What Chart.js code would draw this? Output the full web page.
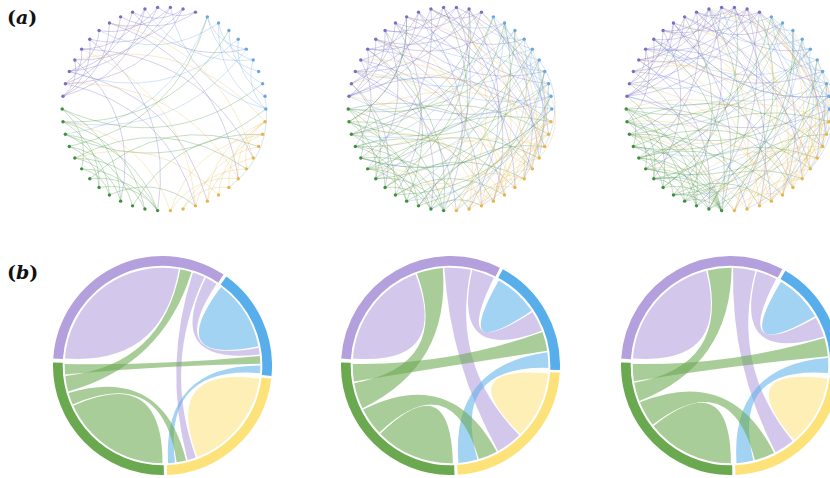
<!DOCTYPE html>
<html>
<head>
<meta charset="utf-8">
<script src="https://cdn.jsdelivr.net/npm/chart.js@4.4.1/dist/chart.umd.min.js"></script>
<style>
  html, body { margin: 0; padding: 0; background: #fff; }
  body { width: 830px; height: 478px; position: relative; overflow: hidden; }
  canvas { position: absolute; }
  .tag { position: absolute; font: bold 19px "DejaVu Serif", serif; line-height: 19px; color: #111; }
</style>
</head>
<body>
<div class="tag" style="left:7px;top:8px">(<i>a</i>)</div>
<div class="tag" style="left:7px;top:263px">(<i>b</i>)</div>

<canvas id="netA1" width="232" height="232"></canvas>
<canvas id="netA2" width="232" height="232"></canvas>
<canvas id="netA3" width="232" height="232"></canvas>
<canvas id="chordB1" width="219" height="219"></canvas>
<canvas id="chordB2" width="219" height="219"></canvas>
<canvas id="chordB3" width="219" height="219"></canvas>

<script>
// ---- network row (a): 50 nodes around the ring, counted ccw from 3 o'clock ----
const nodeGroupSizes = [10, 15, 13, 12];            // blue, purple, green, yellow
const nodeColors = ['#6aa7df', '#7c6dc2', '#3f8f41', '#e8b54a'];
const edgeColors = ['rgba(112,165,222,0.38)', 'rgba(124,110,196,0.4)', 'rgba(78,152,72,0.4)', 'rgba(232,185,85,0.36)'];

const edgesA1 = [
  [10,13],[10,16],[11,15],[11,19],[12,17],[12,21],[13,18],[14,20],[14,24],[15,22],[16,23],[17,24],[18,22],[19,24],[20,23],[21,24],[13,22],[11,23],
  [22,41],[21,34],[20,46],[19,37],[17,44],[15,5],[23,40],
  [0,4],[1,6],[2,7],[3,9],[5,9],[0,8],[4,8],
  [9,27],[8,18],[6,22],[5,26],[4,14],[1,43],[0,12],
  [25,30],[25,34],[26,32],[26,36],[27,33],[27,37],[28,35],[29,34],[30,36],[31,37],[28,32],[29,37],[30,33],[32,37],
  [25,2],[26,7],[27,0],[28,9],[29,45],[31,47],[33,40],[35,48],
  [38,44],[38,48],[39,45],[40,47],[41,49],[42,48],[43,49],[44,49],[39,43],[41,46],[45,49],
  [38,26],[40,20],[42,29],[44,23],[46,17],[49,21]
];

const edgesA2 = [
  [10,14],[10,19],[11,17],[12,20],[13,24],[14,22],[15,24],[16,21],[17,23],[18,24],[19,23],[20,24],[11,22],[12,16],[13,18],[15,20],
  [10,27],[10,44],[11,31],[11,39],[12,48],[12,35],[13,2],[13,41],[14,29],[14,46],[15,6],[15,37],[16,43],[16,26],
  [17,33],[17,3],[18,47],[18,30],[19,40],[19,8],[20,36],[20,45],[21,28],[21,42],[22,1],[22,38],[23,32],[24,49],
  [0,5],[1,7],[2,8],[3,9],[0,3],[4,9],[5,8],[1,4],
  [0,15],[0,29],[1,19],[1,34],[2,24],[2,40],[3,12],[3,36],[4,21],[4,27],[5,30],[5,17],[6,11],[6,44],[7,25],[7,22],
  [8,33],[8,14],[9,28],[9,46],[6,38],[4,47],
  [25,29],[25,33],[26,31],[26,35],[27,32],[27,36],[28,34],[28,37],[29,35],[30,36],[31,37],[25,37],[30,34],[32,36],
  [25,6],[25,45],[26,2],[26,41],[27,9],[27,48],[28,5],[28,43],[29,0],[29,39],[30,8],[30,46],[31,4],[31,49],
  [32,11],[32,44],[33,1],[33,42],[34,7],[34,18],[35,3],[35,47],[36,13],[36,40],[37,20],[37,8],[26,16],[31,23],
  [38,43],[38,47],[39,44],[39,48],[40,45],[41,46],[42,49],[43,48],[44,49],[40,49],[41,47],[45,48],
  [38,12],[38,30],[39,17],[39,2],[40,24],[40,7],[41,11],[41,33],[42,19],[42,27],[43,22],[43,5],[44,14],[44,35],
  [45,10],[45,29],[46,21],[46,1],[47,16],[47,32],[48,23],[49,26]
];

const edgesA3 = [
  [10,13],[10,17],[10,21],[11,15],[11,20],[11,24],[12,18],[12,23],[13,19],[13,22],[14,18],[14,24],[15,21],[16,20],
  [16,24],[17,22],[18,23],[19,24],[20,23],[12,15],[14,21],[17,24],
  [10,30],[10,46],[11,35],[11,42],[12,2],[12,38],[13,27],[13,48],[14,33],[14,5],[15,40],[15,29],[16,8],[16,44],
  [17,37],[17,1],[18,45],[18,31],[19,3],[19,41],[20,26],[20,47],[21,36],[22,43],[23,0],[24,39],
  [0,4],[0,7],[1,5],[2,6],[3,8],[4,9],[1,9],[5,9],
  [0,13],[0,33],[1,17],[1,28],[2,21],[2,39],[3,11],[3,31],[4,19],[4,44],[5,24],[5,26],[6,15],[6,41],[7,10],[7,36],
  [8,20],[8,29],[9,14],[9,47],[6,34],[3,48],[7,23],[2,45],
  [25,28],[25,31],[25,35],[26,30],[26,34],[26,37],[27,31],[27,35],[28,33],[28,37],[29,32],[29,36],[30,35],[31,34],
  [31,37],[32,37],[33,36],[25,37],[27,37],[29,37],[30,37],[34,37],
  [25,5],[25,43],[26,1],[26,47],[27,8],[27,40],[28,3],[28,45],[29,9],[29,42],[30,0],[30,49],[31,6],[31,38],
  [32,12],[32,46],[33,2],[33,41],[34,16],[34,44],[35,7],[35,22],[36,4],[36,48],[37,19],[37,10],[32,24],[36,14],
  [38,42],[38,46],[39,44],[39,49],[40,45],[40,48],[41,47],[42,49],[43,47],[44,48],[45,49],[38,49],[41,44],
  [38,15],[38,27],[39,11],[39,30],[40,20],[40,2],[41,23],[41,34],[42,13],[42,26],[43,18],[43,7],[44,10],[44,29],
  [45,21],[45,4],[46,17],[46,33],[47,12],[47,36],[48,22],[48,1],[49,14],[49,28],[46,25],[42,9]
];

// ---- chord row (b): groups clockwise from 9 o'clock: purple, blue, yellow, green ----
const ringColors = ['#b3a0dd', '#57aeea', '#fde27a', '#6aa94f'];
const ribbonColors = ['rgba(179,160,221,0.58)', 'rgba(87,174,234,0.55)', 'rgba(253,226,122,0.55)', 'rgba(106,169,79,0.58)'];
// colour group of each link id (0 P-P, 1 P-G, 2 P-Y, 3 P-B, 4 B-B, 5 B-G, 6 B-Y, 7 Y-Y, 8 Y-G, 9 G-G)
const linkTint = [0, 3, 0, 0, 1, 3, 1, 2, 3, 3];

// per group: [link id, width] in clockwise order
const slotsB1 = [
  [[0, 95], [1, 7.5], [2, 8], [3, 8]],
  [[4, 43], [3, 5], [5, 5.5], [6, 5.5]],
  [[7, 62], [2, 6], [8, 6.5], [6, 5]],
  [[9, 66], [8, 8], [1, 10], [5, 7]]
];
const slotsB2 = [
  [[0, 64], [1, 16], [2, 16], [3, 14]],
  [[4, 27], [3, 13], [5, 12], [6, 10]],
  [[7, 40], [2, 16], [8, 12], [6, 12]],
  [[9, 47], [8, 17], [1, 16], [5, 11]]
];
const slotsB3 = [
  [[0, 72], [1, 15], [2, 14], [3, 13]],
  [[4, 30], [3, 13], [5, 12], [6, 10]],
  [[7, 43], [2, 13], [8, 13], [6, 11]],
  [[9, 53], [8, 16], [1, 12], [5, 11]]
];

const BEND = 0.3;
const RING_SPACING = 4;
const SLOT_PAD = 0.45 * Math.PI / 180;

function groupOf(i) {
  let acc = 0;
  for (let g = 0; g < nodeGroupSizes.length; g++) {
    acc += nodeGroupSizes[g];
    if (i < acc) return g;
  }
  return nodeGroupSizes.length - 1;
}

const N = nodeGroupSizes.reduce((a, b) => a + b, 0);
const nodes = Array.from({ length: N }, (_, i) => {
  const t = i * 2 * Math.PI / N;
  return { x: Math.cos(t), y: Math.sin(t) };
});

function edgePlugin(edges) {
  return {
    id: 'edges',
    beforeDatasetsDraw(chart) {
      const { ctx, scales: { x, y } } = chart;
      const pts = chart.data.datasets[0].data;
      ctx.save();
      ctx.lineWidth = 0.8;
      edges.forEach(([s, t]) => {
        const p0 = pts[Math.min(s, t)], p1 = pts[Math.max(s, t)];
        const dx = p1.x - p0.x, dy = p1.y - p0.y;
        const cx = (p0.x + p1.x) / 2 - BEND * dy;
        const cy = (p0.y + p1.y) / 2 + BEND * dx;
        ctx.strokeStyle = edgeColors[groupOf(s)];
        ctx.beginPath();
        ctx.moveTo(x.getPixelForValue(p0.x), y.getPixelForValue(p0.y));
        ctx.quadraticCurveTo(x.getPixelForValue(cx), y.getPixelForValue(cy),
                             x.getPixelForValue(p1.x), y.getPixelForValue(p1.y));
        ctx.stroke();
      });
      ctx.restore();
    }
  };
}

function drawNetwork(id, cx, cy, edges) {
  const el = document.getElementById(id);
  el.style.left = (cx - 116) + 'px';
  el.style.top = (cy - 116) + 'px';
  new Chart(el, {
    type: 'scatter',
    data: {
      datasets: [{
        data: nodes,
        pointRadius: 1.7,
        pointBorderWidth: 0,
        pointBackgroundColor: nodes.map((_, i) => nodeColors[groupOf(i)])
      }]
    },
    options: {
      responsive: false, animation: false, events: [],
      layout: { padding: 0 },
      plugins: { legend: { display: false }, tooltip: { enabled: false } },
      scales: {
        x: { type: 'linear', min: -1.1, max: 1.1, display: false },
        y: { type: 'linear', min: -1.1, max: 1.1, display: false }
      }
    },
    plugins: [edgePlugin(edges)]
  });
}

function ribbonPlugin(slots) {
  return {
    id: 'ribbons',
    afterDatasetsDraw(chart) {
      const { ctx } = chart;
      const arcs = chart.getDatasetMeta(0).data;
      const ends = {};
      let cx = 0, cy = 0, r = 0;
      arcs.forEach((arc, g) => {
        cx = arc.x; cy = arc.y; r = arc.innerRadius;
        const pad = (RING_SPACING / 2) / r;
        const a0 = arc.startAngle + pad, a1 = arc.endAngle - pad;
        const total = slots[g].reduce((s, v) => s + v[1], 0);
        const k = (a1 - a0) / total;
        let cur = a0;
        slots[g].forEach(([link, w]) => {
          (ends[link] = ends[link] || []).push([cur + SLOT_PAD, cur + w * k - SLOT_PAD]);
          cur += w * k;
        });
      });
      const px = a => cx + r * Math.cos(a), py = a => cy + r * Math.sin(a);
      ctx.save();
      Object.keys(ends).map(Number).sort((a, b) => a - b).forEach(link => {
        const [s, t] = ends[link];
        ctx.fillStyle = ribbonColors[linkTint[link]];
        ctx.beginPath();
        if (!t) {
          // link that starts and ends inside one group: a single lens
          ctx.arc(cx, cy, r, s[0], s[1]);
          ctx.quadraticCurveTo(cx, cy, px(s[0]), py(s[0]));
        } else {
          ctx.arc(cx, cy, r, s[0], s[1]);
          ctx.quadraticCurveTo(cx, cy, px(t[0]), py(t[0]));
          ctx.arc(cx, cy, r, t[0], t[1]);
          ctx.quadraticCurveTo(cx, cy, px(s[0]), py(s[0]));
        }
        ctx.closePath();
        ctx.fill();
      });
      ctx.restore();
    }
  };
}

function drawChord(id, cx, cy, slots) {
  const el = document.getElementById(id);
  el.style.left = (cx - 109.5) + 'px';
  el.style.top = (cy - 109.5) + 'px';
  new Chart(el, {
    type: 'doughnut',
    data: {
      labels: ['purple', 'blue', 'yellow', 'green'],
      datasets: [{
        data: slots.map(g => g.reduce((s, v) => s + v[1], 0)),
        backgroundColor: ringColors,
        borderWidth: 0,
        spacing: RING_SPACING
      }]
    },
    options: {
      responsive: false, animation: false, events: [],
      rotation: -87.5,
      cutout: '91%',
      layout: { padding: 0 },
      plugins: { legend: { display: false }, tooltip: { enabled: false } }
    },
    plugins: [ribbonPlugin(slots)]
  });
}

drawNetwork('netA1', 164.3, 108.7, edgesA1);
drawNetwork('netA2', 450.2, 109.3, edgesA2);
drawNetwork('netA3', 728.3, 109.3, edgesA3);
drawChord('chordB1', 162, 365.5, slotsB1);
drawChord('chordB2', 450.5, 365.5, slotsB2);
drawChord('chordB3', 730.5, 365.5, slotsB3);
</script>
</body>
</html>
